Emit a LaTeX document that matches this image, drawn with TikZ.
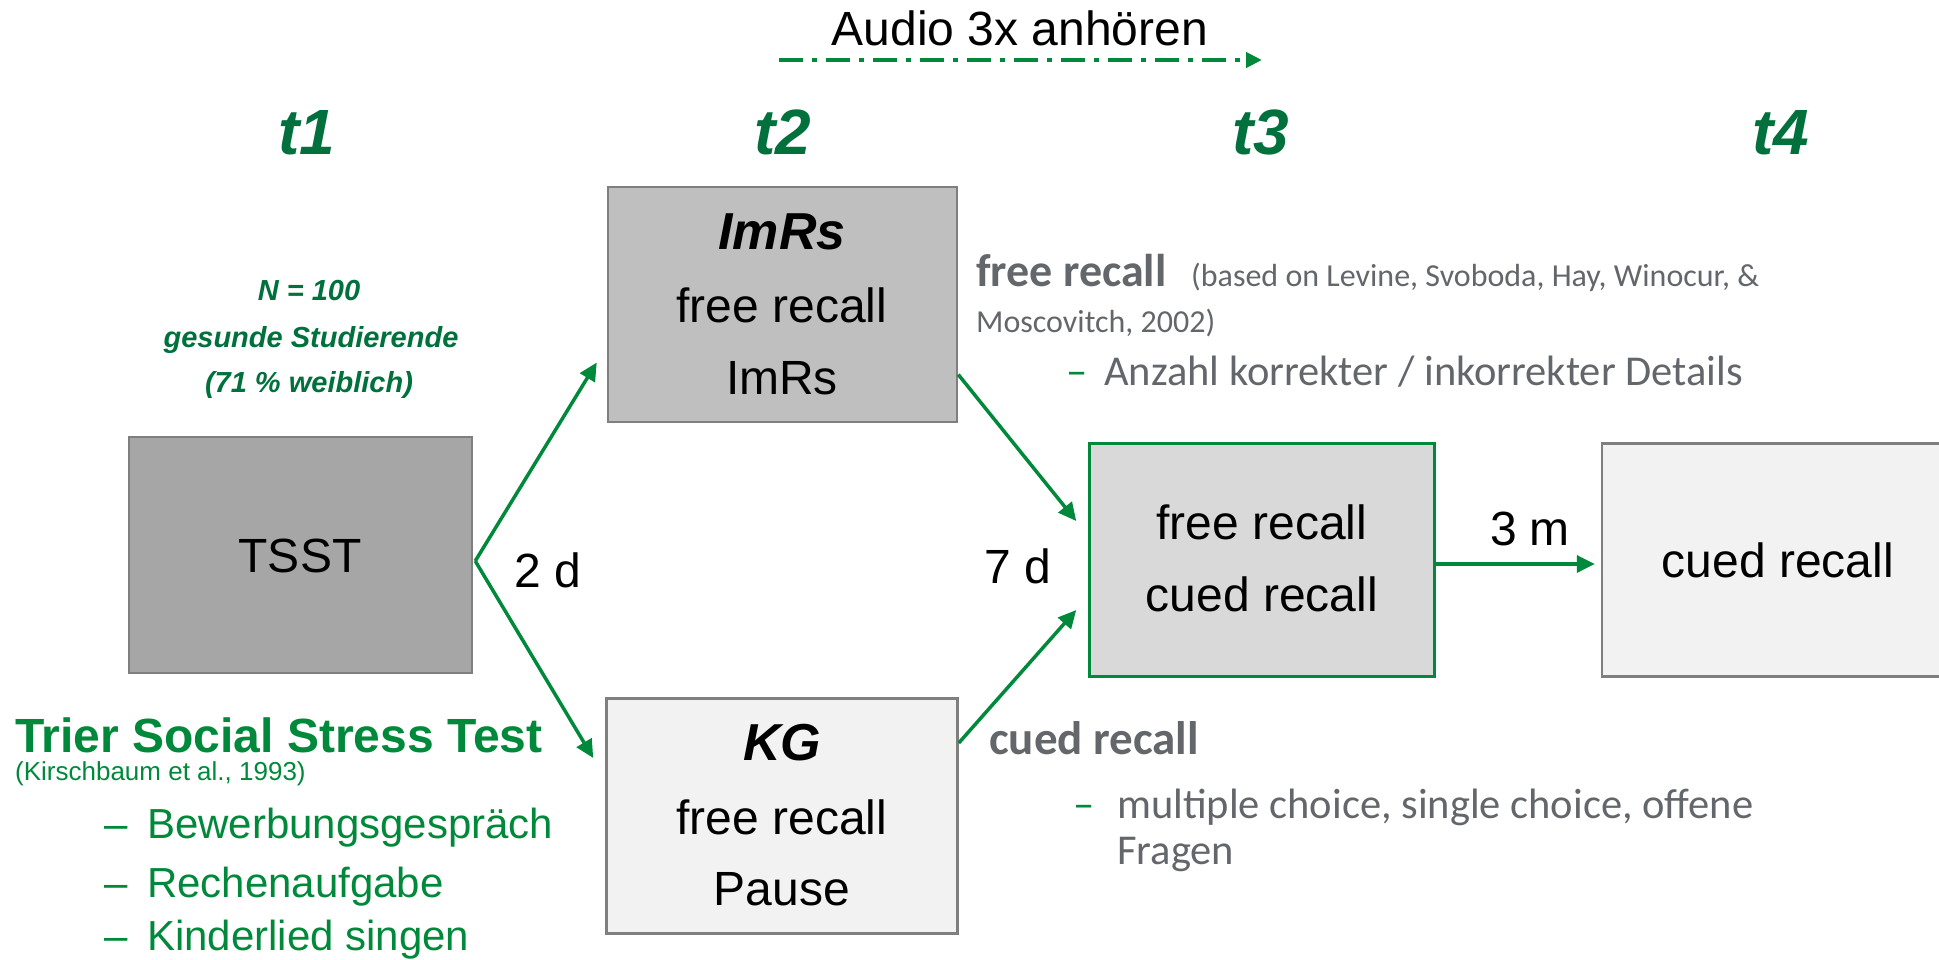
\documentclass[tikz,border=0pt]{standalone}
\usepackage{fontspec}
\setmainfont{Liberation Sans}
\newfontfamily\carl{Carlito}
\usetikzlibrary{arrows.meta,calc}
\definecolor{agreen}{RGB}{0,137,58}
\definecolor{tgreen}{RGB}{0,112,60}
\definecolor{bgray}{RGB}{127,127,127}
\definecolor{txtgray}{RGB}{99,102,106}
\newcommand{\fsz}[1]{\fontsize{#1}{#1}\selectfont}
\tikzset{
  box/.style={draw=bgray, line width=2.5pt, inner sep=0pt, anchor=center},
  txt/.style={inner sep=0pt, anchor=base},
  ltxt/.style={inner sep=0pt, anchor=base west},
  garrow/.style={draw=agreen, line width=3.5pt, -{Triangle[length=18pt,width=17pt]}},
}
\begin{document}
\begin{tikzpicture}[x=1pt,y=-1pt]
\useasboundingbox (0,0) rectangle (1939,959);
% boxes
\node[box, fill={rgb,255:red,166;green,166;blue,166}, minimum width=343pt, minimum height=236pt] (tsst) at (300.5,555) {};
\node[box, fill={rgb,255:red,191;green,191;blue,191}, minimum width=349pt, minimum height=235pt] (imrs) at (782.5,304.5) {};
\node[box, fill={rgb,255:red,242;green,242;blue,242}, minimum width=351pt, minimum height=235pt] (kg) at (782,816) {};
\node[box, draw=agreen, fill={rgb,255:red,217;green,217;blue,217}, minimum width=345pt, minimum height=233pt] (tthree) at (1262,560) {};
\node[box, fill={rgb,255:red,242;green,242;blue,242}, minimum width=352pt, minimum height=233pt] (tfour) at (1778,560) {};
% box texts
\node[txt] (tssttxt) at (300,572) {\fsz{48}TSST};
\node[txt] (imrstitle) at (782,249) {\fsz{52}\bfseries\itshape ImRs};
\node[txt] (imrsa) at (782,322) {\fsz{48}free recall};
\node[txt] (imrsb) at (782,394) {\fsz{48}ImRs};
\node[txt] (kgtitle) at (782,760) {\fsz{52}\bfseries\itshape KG};
\node[txt] (kga) at (782,834) {\fsz{48}free recall};
\node[txt] (kgb) at (782,905) {\fsz{48}Pause};
\node[txt] (ttha) at (1262,539) {\fsz{48}free recall};
\node[txt] (tthb) at (1262,611) {\fsz{48}cued recall};
\node[txt] (tfa) at (1778,577) {\fsz{48}cued recall};
% interval labels
\node[txt] (twod) at (548,587) {\fsz{48}2 d};
\node[txt] (sevend) at (1018,583) {\fsz{48}7 d};
\node[txt] (threem) at (1530,545) {\fsz{48}3 m};
% time labels
\node[txt, text=tgreen] (tone) at (307,154) {\fsz{64}\bfseries\itshape t1};
\node[txt, text=tgreen] (ttwo) at (783,154) {\fsz{64}\bfseries\itshape t2};
\node[txt, text=tgreen] (tthr) at (1261,154) {\fsz{64}\bfseries\itshape t3};
\node[txt, text=tgreen] (tfou) at (1781,154) {\fsz{64}\bfseries\itshape t4};
% sample
\node[txt, text=tgreen] (na) at (309,300) {\fsz{29}\bfseries\itshape N = 100};
\node[txt, text=tgreen] (nb) at (311,347) {\fsz{29}\bfseries\itshape gesunde Studierende};
\node[txt, text=tgreen] (nc) at (309,392) {\fsz{29}\bfseries\itshape (71 \% weiblich)};
% audio
\node[txt] (audio) at (1020,45) {\fsz{48}Audio 3x anhören};
\coordinate (audS) at (779,60);
\coordinate (audE) at (1262,60);
\draw[draw=agreen, line width=4.5pt, dash pattern=on 24pt off 9pt on 5pt off 9pt, -{Triangle[length=16pt,width=15pt]}] (audS) -- (audE);
% TSST description
\node[ltxt, text=agreen] (trier) at (15,752) {\fsz{48}\bfseries Trier Social Stress Test};
\node[ltxt, text=agreen] (kirsch) at (15,780) {\fsz{26}(Kirschbaum et al., 1993)};
\node[ltxt, text=agreen] (ba) at (104,838) {\fsz{42}\makebox[43pt][l]{–}Bewerbungsgespräch};
\node[ltxt, text=agreen] (bb) at (104,897) {\fsz{42}\makebox[43pt][l]{–}Rechenaufgabe};
\node[ltxt, text=agreen] (bc) at (104,950) {\fsz{42}\makebox[43pt][l]{–}Kinderlied singen};
% right gray text
\node[ltxt, text=txtgray] (frh) at (976,286) {\carl\fsz{46}\bfseries free recall};
\node[ltxt, text=txtgray] (frc) at (1191,286) {\carl\fsz{32}(based on Levine, Svoboda, Hay, Winocur, \&};
\node[ltxt, text=txtgray] (frd) at (976,332) {\carl\fsz{32}Moscovitch, 2002)};
\node[ltxt, text=txtgray] (fre) at (1066,385) {\carl\fsz{42.5}\makebox[38pt][l]{\textcolor{agreen}{–}}Anzahl korrekter / inkorrekter Details};
\node[ltxt, text=txtgray] (crh) at (989,754) {\carl\fsz{47}\bfseries cued recall};
\node[ltxt, text=txtgray] (crb) at (1073,818) {\carl\fsz{42.5}\makebox[44pt][l]{\textcolor{agreen}{–}}multiple choice, single choice, offene};
\node[ltxt, text=txtgray] (crc) at (1117,864) {\carl\fsz{42.5}Fragen};
% connectors
\draw[garrow] ($(tsst.east)+(2,6)$) -- ($(imrs.west)+(-10,58)$);
\draw[garrow] ($(tsst.east)+(2,6)$) -- ($(kg.west)+(-12,-58)$);
\draw[garrow] ($(imrs.east)+(0,70)$) -- ($(tthree.west)+(-12,-39)$);
\draw[garrow] ($(kg.east)+(0,-73)$) -- ($(tthree.west)+(-12,50)$);
\draw[garrow] ($(tthree.east)+(0,4)$) -- ($(tfour.west)+(-6,4)$);
\end{tikzpicture}
\end{document}
